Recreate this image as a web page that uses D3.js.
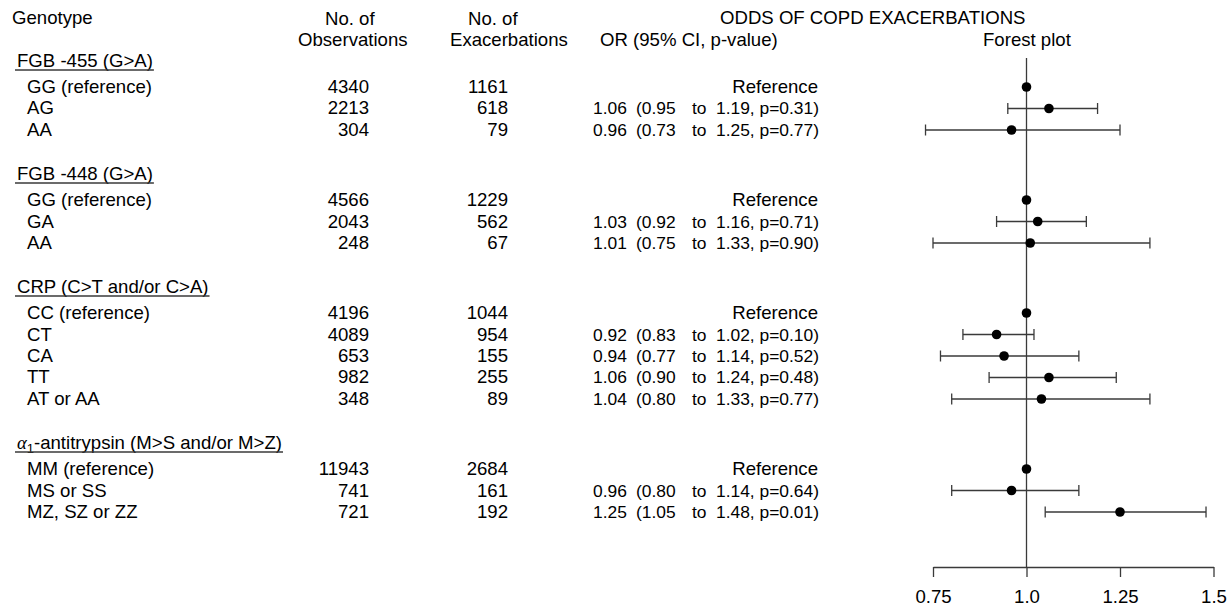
<!DOCTYPE html>
<html>
<head>
<meta charset="utf-8">
<script src="https://cdn.jsdelivr.net/npm/d3@7"></script>
<style>
  html, body { margin: 0; padding: 0; background: #fff; }
  svg text { font-family: "Liberation Sans", Arial, sans-serif; font-size: 18.6px; fill: #000; }
  svg text.or { font-size: 17.4px; }
</style>
</head>
<body>
<svg id="chart" width="1231" height="609"></svg>
<script>
// Gene headings (the α₁ heading gets its subscript added when drawn)
const genes = ["FGB -455 (G>A)", "FGB -448 (G>A)", "CRP (C>T and/or C>A)", "-antitrypsin (M>S and/or M>Z)"];

// One entry per genotype row
const genotypes = ["GG (reference)", "AG", "AA",
                   "GG (reference)", "GA", "AA",
                   "CC (reference)", "CT", "CA", "TT", "AT or AA",
                   "MM (reference)", "MS or SS", "MZ, SZ or ZZ"];
const geneOfRow = [0, 0, 0, 1, 1, 1, 2, 2, 2, 2, 2, 3, 3, 3];
const observations = [4340, 2213, 304, 4566, 2043, 248, 4196, 4089, 653, 982, 348, 11943, 741, 721];
const exacerbations = [1161, 618, 79, 1229, 562, 67, 1044, 954, 155, 255, 89, 2684, 161, 192];
const oddsRatio = [1.00, 1.06, 0.96, 1.00, 1.03, 1.01, 1.00, 0.92, 0.94, 1.06, 1.04, 1.00, 0.96, 1.25];
const ciLower = [null, 0.95, 0.73, null, 0.92, 0.75, null, 0.83, 0.77, 0.90, 0.80, null, 0.80, 1.05];
const ciUpper = [null, 1.19, 1.25, null, 1.16, 1.33, null, 1.02, 1.14, 1.24, 1.33, null, 1.14, 1.48];
const pValues = [null, "0.31", "0.77", null, "0.71", "0.90", null, "0.10", "0.52", "0.48", "0.77", null, "0.64", "0.01"];
const isReference = [true, false, false, true, false, false, true, false, false, false, false, true, false, false];

// Forest plot axis
const axisTicks = [0.75, 1.0, 1.25, 1.5];
const axisTickLabels = ["0.75", "1.0", "1.25", "1.5"];

const svg = d3.select("#chart");
const f2 = d3.format(".2f");

// Vertical layout: each new gene block adds extra space for a blank line and its heading
const groupGap = 2.256;
const slots = genotypes.map((d, i) => i + geneOfRow[i] * groupGap);
const y = d3.scaleLinear()
  .domain([0, d3.max(slots)])
  .range([87, 512]);

const x = d3.scaleLinear().domain([0.75, 1.5]).range([933, 1213.5]);

const lineColor = "#3a3a3a";

// Column headings
const head = svg.append("g");
head.append("text").attr("x", 12).attr("y", 24).text("Genotype");
head.append("text").attr("x", 325).attr("y", 25).text("No. of");
head.append("text").attr("x", 298).attr("y", 46).text("Observations");
head.append("text").attr("x", 468).attr("y", 25).text("No. of");
head.append("text").attr("x", 450).attr("y", 46).text("Exacerbations");
head.append("text").attr("x", 720).attr("y", 24).text("ODDS OF COPD EXACERBATIONS");
head.append("text").attr("x", 600).attr("y", 46).text("OR (95% CI, p-value)");
head.append("text").attr("x", 983).attr("y", 46).text("Forest plot");

// Gene headings, underlined
genes.forEach((g, gi) => {
  const first = geneOfRow.indexOf(gi);
  const yy = y(slots[first]);
  const t = svg.append("text").attr("x", 17).attr("y", yy - 20);
  if (gi === 3) {
    t.append("tspan").style("font-family", "'Liberation Serif', serif").style("font-style", "italic").text("α");
    t.append("tspan").attr("dy", 4).style("font-size", "13px").text("1");
    t.append("tspan").attr("dy", -4).text(g);
  } else {
    t.text(g);
  }
  const w = t.node().getComputedTextLength();
  svg.append("line")
    .attr("x1", 15).attr("x2", 17 + w + 1)
    .attr("y1", yy - 17).attr("y2", yy - 17)
    .attr("stroke", lineColor).attr("stroke-width", 1.3);
});

// Table rows
const rows = svg.append("g").selectAll("g")
  .data(genotypes.map((g, i) => i))
  .join("g")
  .attr("transform", i => `translate(0,${y(slots[i]) + 6})`);

rows.append("text").attr("x", 27).text(i => genotypes[i]);
rows.append("text").attr("x", 369).attr("text-anchor", "end").text(i => observations[i]);
rows.append("text").attr("x", 508).attr("text-anchor", "end").text(i => exacerbations[i]);

rows.filter(i => isReference[i]).append("text")
  .attr("x", 818).attr("text-anchor", "end").text("Reference");

const est = rows.filter(i => !isReference[i]);
est.append("text").attr("class", "or").attr("x", 593).text(i => f2(oddsRatio[i]));
est.append("text").attr("class", "or").attr("x", 636).text(i => "(" + f2(ciLower[i]));
est.append("text").attr("class", "or").attr("x", 692).text("to");
est.append("text").attr("class", "or").attr("x", 716).text(i => `${f2(ciUpper[i])}, p=${pValues[i]})`);

// Forest plot: axis
const axisY = 567;
svg.append("g")
  .attr("transform", `translate(0,${axisY})`)
  .call(d3.axisBottom(x)
    .tickValues(axisTicks)
    .tickFormat((d, i) => axisTickLabels[i])
    .tickSize(10)
    .tickSizeOuter(0)
    .tickPadding(13))
  .call(g => g.selectAll("path, line").attr("stroke", lineColor).attr("stroke-width", 1.3))
  .call(g => g.selectAll("text")
    .style("font-family", "'Liberation Sans', Arial, sans-serif")
    .style("font-size", "18.6px")
    .attr("fill", "#000"));

// Line of no effect
svg.append("line")
  .attr("x1", x(1)).attr("x2", x(1))
  .attr("y1", 58).attr("y2", axisY)
  .attr("stroke", lineColor).attr("stroke-width", 1.3);

// Confidence intervals with end caps
const ci = svg.append("g").selectAll("g")
  .data(genotypes.map((g, i) => i).filter(i => ciLower[i] !== null))
  .join("g")
  .attr("stroke", lineColor).attr("stroke-width", 1.3);
ci.append("line")
  .attr("x1", i => x(ciLower[i])).attr("x2", i => x(ciUpper[i]))
  .attr("y1", i => y(slots[i])).attr("y2", i => y(slots[i]));
ci.append("line")
  .attr("x1", i => x(ciLower[i])).attr("x2", i => x(ciLower[i]))
  .attr("y1", i => y(slots[i]) - 5.5).attr("y2", i => y(slots[i]) + 5.5);
ci.append("line")
  .attr("x1", i => x(ciUpper[i])).attr("x2", i => x(ciUpper[i]))
  .attr("y1", i => y(slots[i]) - 5.5).attr("y2", i => y(slots[i]) + 5.5);

// Point estimates
svg.append("g").selectAll("circle")
  .data(genotypes.map((g, i) => i))
  .join("circle")
  .attr("cx", i => x(oddsRatio[i]))
  .attr("cy", i => y(slots[i]))
  .attr("r", 4.8)
  .attr("fill", "#000");
</script>
</body>
</html>
